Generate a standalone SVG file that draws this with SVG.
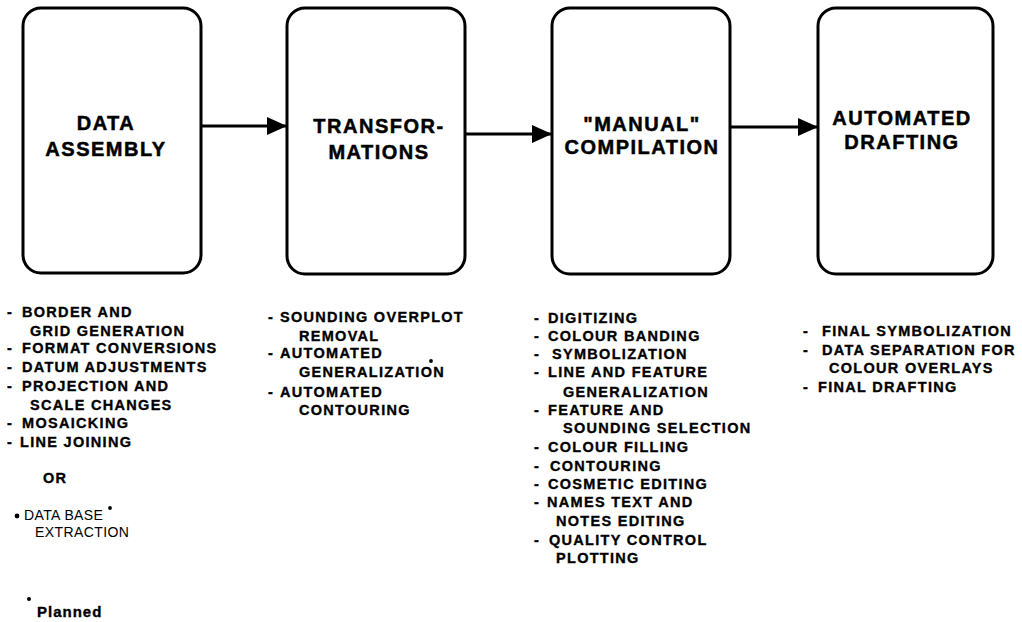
<svg xmlns="http://www.w3.org/2000/svg" width="1022" height="622" viewBox="0 0 1022 622">
<style>
.box{fill:#fff;stroke:#000;stroke-width:3}
.t{font-family:"Liberation Sans",Arial,sans-serif;font-weight:bold;font-size:20px;letter-spacing:1.5px;text-anchor:middle;fill:#000;stroke:#000;stroke-width:0.5px}
.l{font-family:"Liberation Sans",Arial,sans-serif;font-weight:bold;font-size:14.5px;letter-spacing:1.3px;fill:#000;stroke:#000;stroke-width:0.35px}
.r{font-family:"Liberation Sans",Arial,sans-serif;font-size:14px;letter-spacing:0.4px;fill:#000}
.c{fill:none;stroke:#000;stroke-width:3}
</style>
<defs>
<marker id="ah" markerUnits="userSpaceOnUse" markerWidth="22" markerHeight="18" refX="20" refY="9" orient="auto">
<path d="M0,0 L20,9 L0,18 Z" fill="#000"/>
</marker>
</defs>
<rect width="1022" height="622" fill="#fff"/>
<g id="connectors">
<line class="c" x1="201" y1="126" x2="287" y2="126" marker-end="url(#ah)"/>
<line class="c" x1="465" y1="134" x2="552" y2="134" marker-end="url(#ah)"/>
<line class="c" x1="730" y1="127" x2="818" y2="127" marker-end="url(#ah)"/>
</g>
<g id="data-assembly">
<rect class="box" x="23" y="8" width="178" height="265" rx="18"/>
<text class="t" x="106" y="130">DATA</text>
<text class="t" x="106" y="156">ASSEMBLY</text>
</g>
<g id="transformations">
<rect class="box" x="287" y="8" width="178" height="266" rx="18"/>
<text class="t" x="379" y="133">TRANSFOR-</text>
<text class="t" x="379" y="159">MATIONS</text>
</g>
<g id="manual-compilation">
<rect class="box" x="552" y="8" width="178" height="266" rx="18"/>
<text class="t" x="642" y="131">"MANUAL"</text>
<text class="t" x="642" y="154">COMPILATION</text>
</g>
<g id="automated-drafting">
<rect class="box" x="818" y="8" width="175" height="266" rx="18"/>
<text class="t" x="902" y="125">AUTOMATED</text>
<text class="t" x="902" y="149">DRAFTING</text>
</g>
<g id="list-data-assembly">
<text class="l" x="7" y="317">-</text><text class="l" x="22" y="317">BORDER AND</text>
<text class="l" x="30" y="336">GRID GENERATION</text>
<text class="l" x="7" y="353">-</text><text class="l" x="22" y="353">FORMAT CONVERSIONS</text>
<text class="l" x="7" y="372">-</text><text class="l" x="22" y="372">DATUM ADJUSTMENTS</text>
<text class="l" x="7" y="391">-</text><text class="l" x="22" y="391">PROJECTION AND</text>
<text class="l" x="30" y="410">SCALE CHANGES</text>
<text class="l" x="7" y="428">-</text><text class="l" x="22" y="428">MOSAICKING</text>
<text class="l" x="7" y="447">-</text><text class="l" x="20" y="447">LINE JOINING</text>
<text class="l" x="43" y="483">OR</text>
<circle cx="17" cy="516" r="2.4" fill="#000"/>
<text class="r" x="24" y="520">DATA BASE</text>
<circle cx="110" cy="508" r="1.9" fill="#000"/>
<text class="r" x="35" y="537">EXTRACTION</text>
<circle cx="29" cy="599" r="2" fill="#000"/>
<text class="l" x="37" y="617" style="font-size:15px;letter-spacing:1px">Planned</text>
</g>
<g id="list-transformations">
<text class="l" x="268" y="322">-</text><text class="l" x="280" y="322">SOUNDING OVERPLOT</text>
<text class="l" x="299" y="341">REMOVAL</text>
<text class="l" x="268" y="358">-</text><text class="l" x="280" y="358">AUTOMATED</text>
<text class="l" x="299" y="377">GENERALIZATION</text>
<circle cx="431" cy="361" r="1.9" fill="#000"/>
<text class="l" x="268" y="397">-</text><text class="l" x="280" y="397">AUTOMATED</text>
<text class="l" x="299" y="415">CONTOURING</text>
</g>
<g id="list-manual-compilation">
<text class="l" x="534" y="323">-</text><text class="l" x="548" y="323">DIGITIZING</text>
<text class="l" x="534" y="341">-</text><text class="l" x="548" y="341">COLOUR BANDING</text>
<text class="l" x="534" y="359">-</text><text class="l" x="552" y="359">SYMBOLIZATION</text>
<text class="l" x="534" y="377">-</text><text class="l" x="548" y="377">LINE AND FEATURE</text>
<text class="l" x="563" y="397">GENERALIZATION</text>
<text class="l" x="534" y="415">-</text><text class="l" x="548" y="415">FEATURE AND</text>
<text class="l" x="563" y="433">SOUNDING SELECTION</text>
<text class="l" x="534" y="452">-</text><text class="l" x="548" y="452">COLOUR FILLING</text>
<text class="l" x="534" y="471">-</text><text class="l" x="550" y="471">CONTOURING</text>
<text class="l" x="534" y="489">-</text><text class="l" x="548" y="489">COSMETIC EDITING</text>
<text class="l" x="534" y="507">-</text><text class="l" x="547" y="507">NAMES TEXT AND</text>
<text class="l" x="556" y="526">NOTES EDITING</text>
<text class="l" x="534" y="545">-</text><text class="l" x="549" y="545">QUALITY CONTROL</text>
<text class="l" x="556" y="563">PLOTTING</text>
</g>
<g id="list-automated-drafting">
<text class="l" x="803" y="336">-</text><text class="l" x="822" y="336">FINAL SYMBOLIZATION</text>
<text class="l" x="803" y="355">-</text><text class="l" x="822" y="355">DATA SEPARATION FOR</text>
<text class="l" x="829" y="373">COLOUR OVERLAYS</text>
<text class="l" x="803" y="392">-</text><text class="l" x="818" y="392">FINAL DRAFTING</text>
</g>
</svg>
